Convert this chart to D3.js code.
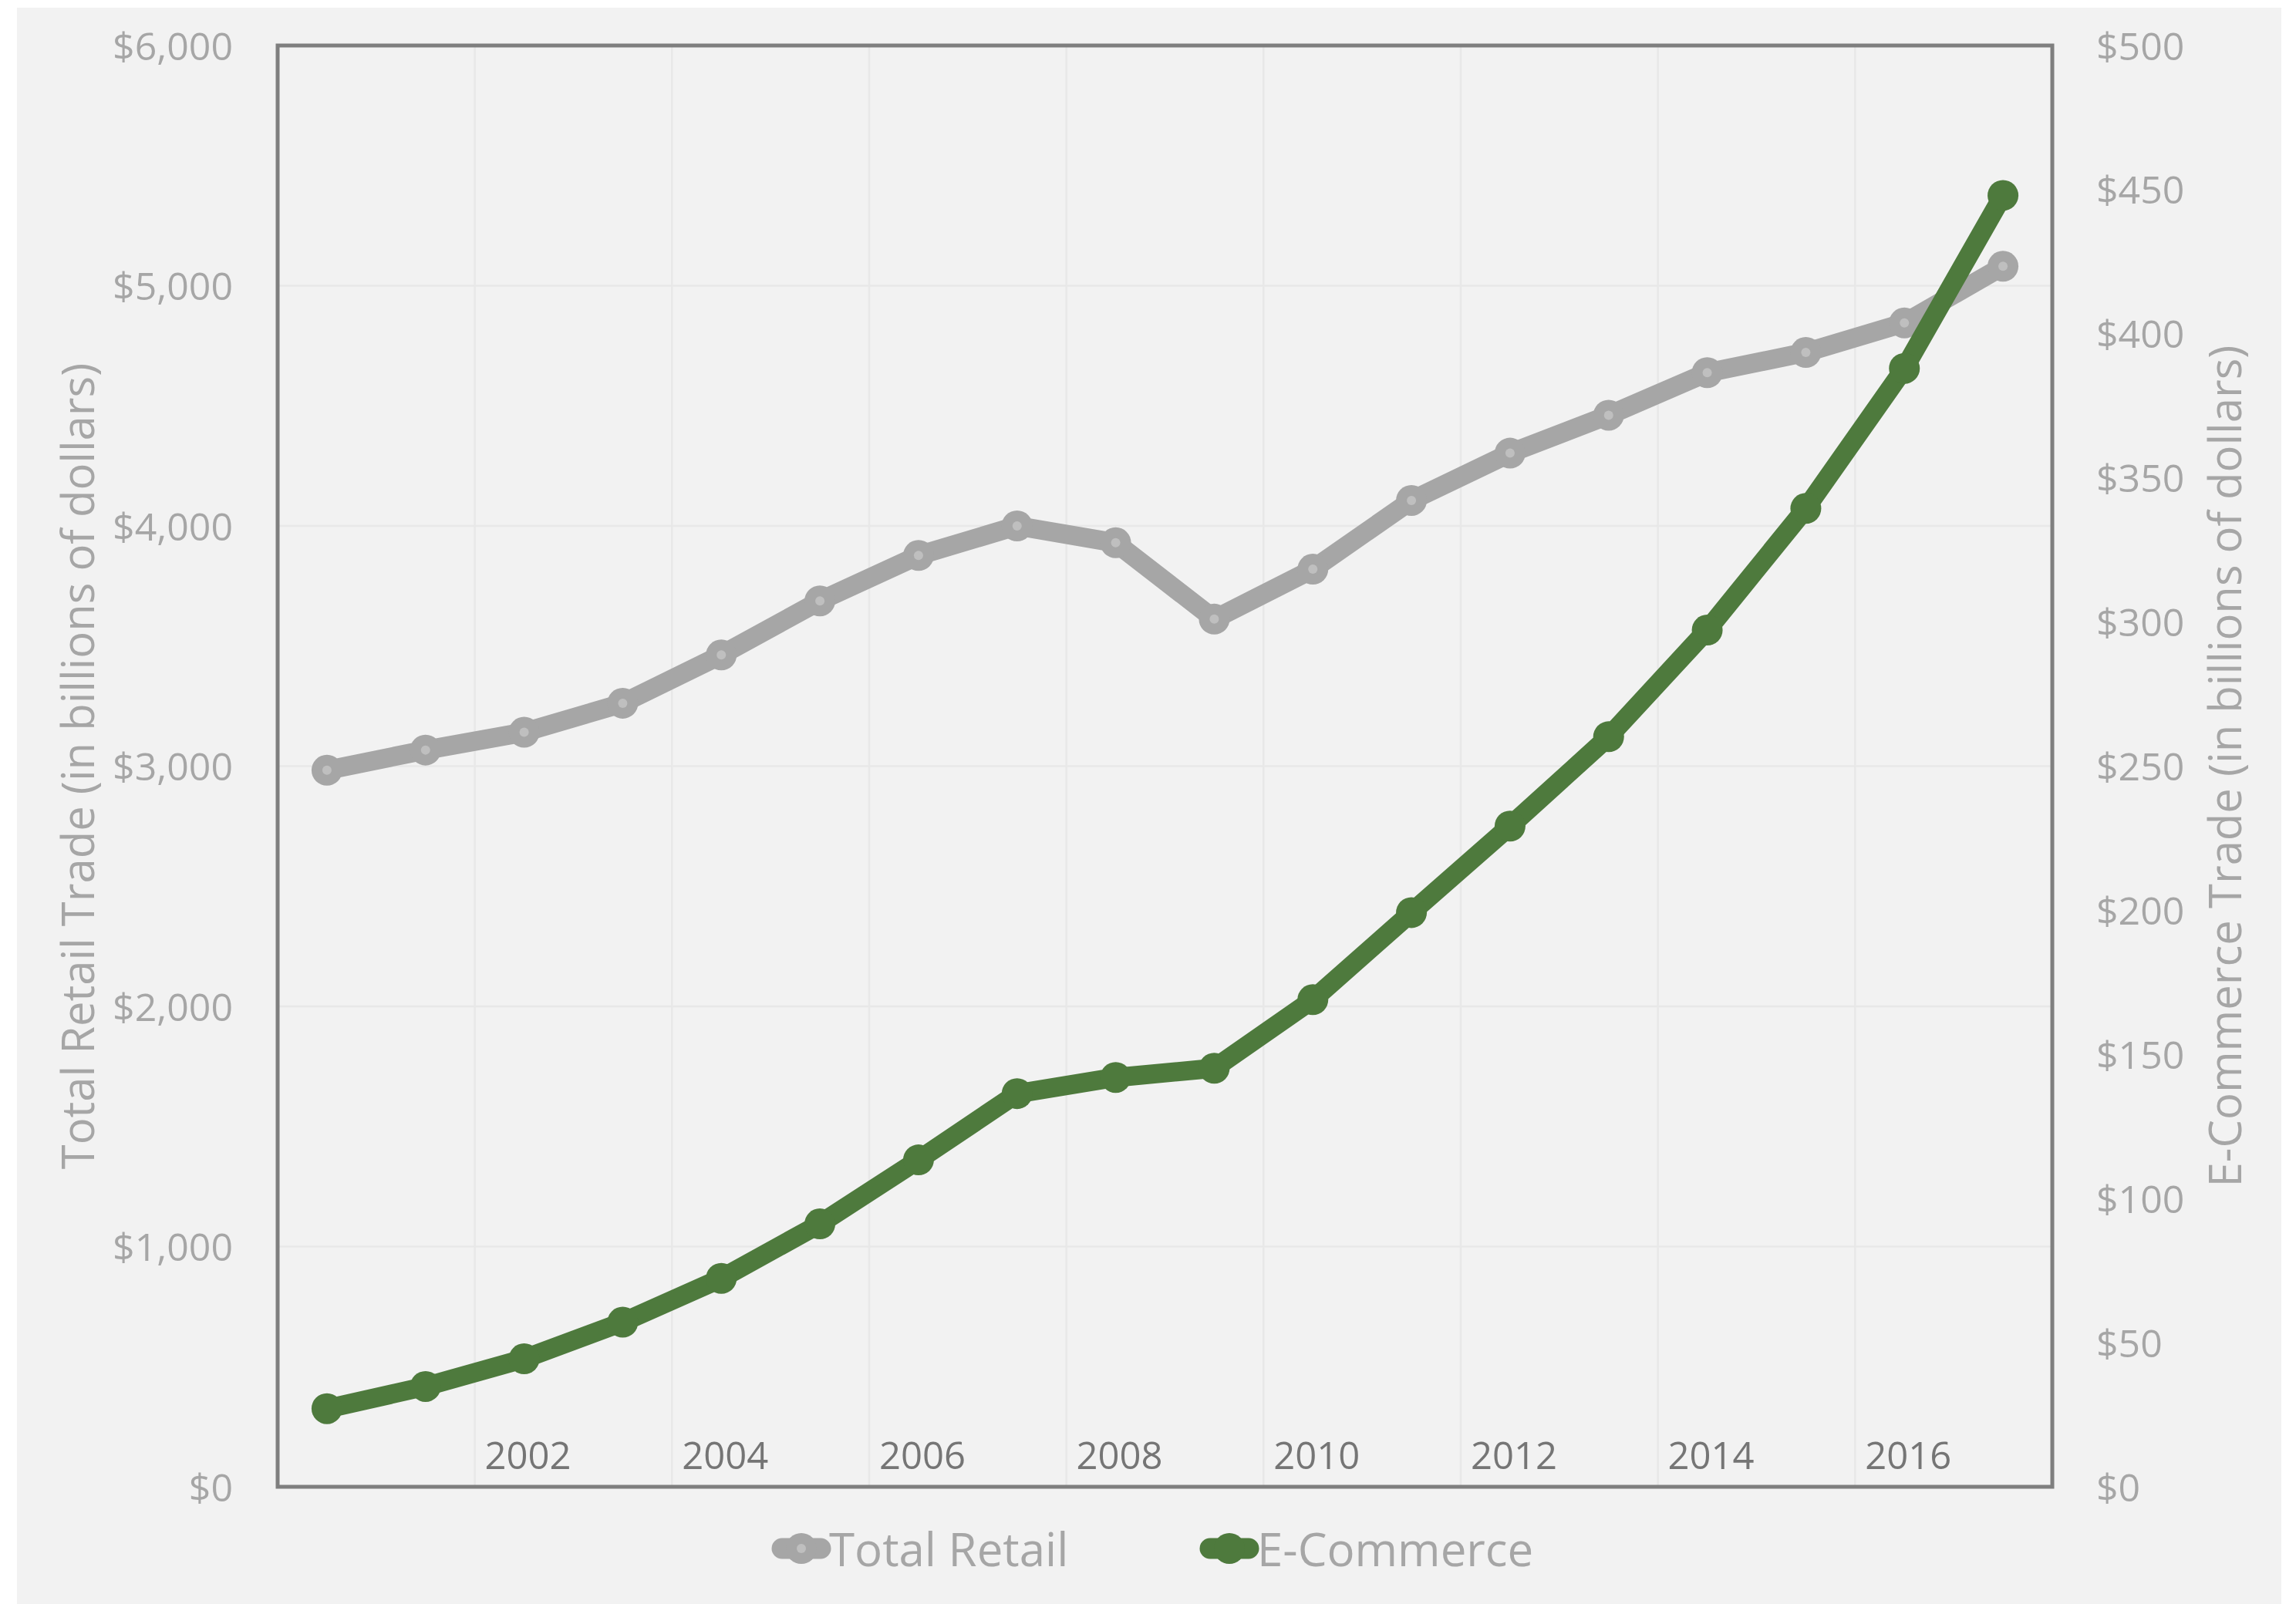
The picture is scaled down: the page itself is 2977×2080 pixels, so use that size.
<!DOCTYPE html>
<html>
<head>
<meta charset="utf-8">
<script src="https://cdn.jsdelivr.net/npm/d3@7"></script>
<style>
body { margin: 0; background: #ffffff; }
svg { display: block; }
text { font-family: "Segoe UI", "Open Sans", "Noto Sans", sans-serif; }
</style>
</head>
<body>
<svg></svg>
<script>
// categories and values
var years = ["2000","2001","2002","2003","2004","2005","2006","2007","2008",
             "2009","2010","2011","2012","2013","2014","2015","2016","2017"]
var yearLabels = ["2002","2004","2006","2008","2010","2012","2014","2016"]
var totalRetail = [2983, 3067, 3141, 3262, 3463, 3688, 3877, 4000, 3930,
                   3612, 3820, 4106, 4303, 4461, 4638, 4722, 4845, 5081]
var eCommerce = [27.1, 34.8, 44.4, 57.1, 72.3, 91.2, 113.4, 136.4, 142.0,
                 145.2, 169.0, 199.2, 229.2, 260.2, 297.2, 339.4, 388.0, 448.0]
var leftTicks = [0, 1000, 2000, 3000, 4000, 5000, 6000]
var rightTicks = [0, 50, 100, 150, 200, 250, 300, 350, 400, 450, 500]
var seriesNames = ["Total Retail", "E-Commerce"]

var screen = {width: 2977, height: 2080}
var plot = {left: 360, top: 59, right: 2661, bottom: 1928}

var grey = "#a6a6a6"
var green = "#4e7a3d"

var svg = d3.select("svg")
    .attr("width", screen.width)
    .attr("height", screen.height)

// chart area background
svg.append("rect")
    .attr("x", 22).attr("y", 10)
    .attr("width", 2958 - 22).attr("height", screen.height - 10)
    .attr("fill", "#f2f2f2")

var xScale = d3.scaleBand()
    .domain(years)
    .range([plot.left, plot.right])

var yLeft = d3.scaleLinear()
    .domain([0, 6000])
    .range([plot.bottom, plot.top])

var yRight = d3.scaleLinear()
    .domain([0, 500])
    .range([plot.bottom, plot.top])

var money = d3.format("$,")

// gridlines
svg.append("g")
    .selectAll("line")
    .data(leftTicks)
    .enter()
    .append("line")
    .attr("x1", plot.left).attr("x2", plot.right)
    .attr("y1", function(d) { return yLeft(d) })
    .attr("y2", function(d) { return yLeft(d) })
    .attr("stroke", "#e8e8e8")
    .attr("stroke-width", 2.5)

svg.append("g")
    .selectAll("line")
    .data(yearLabels)
    .enter()
    .append("line")
    .attr("x1", function(d) { return xScale(d) })
    .attr("x2", function(d) { return xScale(d) })
    .attr("y1", plot.top).attr("y2", plot.bottom)
    .attr("stroke", "#e8e8e8")
    .attr("stroke-width", 2.5)

// frame
svg.append("rect")
    .attr("x", plot.left).attr("y", plot.top)
    .attr("width", plot.right - plot.left)
    .attr("height", plot.bottom - plot.top)
    .attr("fill", "none")
    .attr("stroke", "#7f7f7f")
    .attr("stroke-width", 5)

// axes
var leftAxis = svg.append("g")
    .attr("transform", "translate(" + (plot.left - 58) + ",0)")
    .call(d3.axisLeft(yLeft).tickValues(leftTicks).tickFormat(money).tickSize(0).tickPadding(0))
var rightAxis = svg.append("g")
    .attr("transform", "translate(" + (plot.right + 57) + ",0)")
    .call(d3.axisRight(yRight).tickValues(rightTicks).tickFormat(money).tickSize(0).tickPadding(0))
var bottomAxis = svg.append("g")
    .attr("transform", "translate(5," + (plot.bottom - 63) + ")")
    .call(d3.axisBottom(xScale).tickValues(yearLabels).tickSize(0).tickPadding(0))

svg.selectAll(".domain").remove()

leftAxis.selectAll("text").attr("font-size", 50).attr("fill", grey)
    .attr("dy", "0.36em")
rightAxis.selectAll("text").attr("font-size", 50).attr("fill", grey)
    .attr("dy", "0.36em")
bottomAxis.selectAll("text").attr("font-size", 49).attr("fill", "#757575")
    .attr("dy", "0em").attr("y", 0)
bottomAxis.selectAll(".tick text").attr("transform", "translate(0,40)")

// axis titles
var midY = (plot.top + plot.bottom) / 2
svg.append("text")
    .attr("transform", "translate(122," + midY + ") rotate(-90)")
    .attr("text-anchor", "middle")
    .attr("font-size", 58)
    .attr("fill", grey)
    .text("Total Retail Trade (in billions of dollars)")
svg.append("text")
    .attr("transform", "translate(2906," + midY + ") rotate(-90)")
    .attr("text-anchor", "middle")
    .attr("font-size", 58)
    .attr("fill", grey)
    .text("E-Commerce Trade (in billions of dollars)")

// lines
var retailLine = d3.line()
    .x(function(d, i) { return xScale(years[i]) + xScale.bandwidth() / 2 })
    .y(function(d) { return yLeft(d) })
var ecomLine = d3.line()
    .x(function(d, i) { return xScale(years[i]) + xScale.bandwidth() / 2 })
    .y(function(d) { return yRight(d) })

svg.append("path")
    .datum(totalRetail)
    .attr("d", retailLine)
    .attr("fill", "none")
    .attr("stroke", grey)
    .attr("stroke-width", 25)
    .attr("stroke-linejoin", "round")

svg.append("g")
    .selectAll("circle")
    .data(totalRetail)
    .enter()
    .append("circle")
    .attr("cx", function(d, i) { return xScale(years[i]) + xScale.bandwidth() / 2 })
    .attr("cy", function(d) { return yLeft(d) })
    .attr("r", 20)
    .attr("fill", grey)

svg.append("g")
    .selectAll("circle")
    .data(totalRetail)
    .enter()
    .append("circle")
    .attr("cx", function(d, i) { return xScale(years[i]) + xScale.bandwidth() / 2 })
    .attr("cy", function(d) { return yLeft(d) })
    .attr("r", 6)
    .attr("fill", "#bfbfbf")

svg.append("path")
    .datum(eCommerce)
    .attr("d", ecomLine)
    .attr("fill", "none")
    .attr("stroke", green)
    .attr("stroke-width", 25)
    .attr("stroke-linejoin", "round")

svg.append("g")
    .selectAll("circle")
    .data(eCommerce)
    .enter()
    .append("circle")
    .attr("cx", function(d, i) { return xScale(years[i]) + xScale.bandwidth() / 2 })
    .attr("cy", function(d) { return yRight(d) })
    .attr("r", 20)
    .attr("fill", green)

// legend
var legendItems = [
    {name: seriesNames[0], color: grey, x: 1039, dot: true},
    {name: seriesNames[1], color: green, x: 1594, dot: false}
]
var legend = svg.append("g")
    .selectAll("g")
    .data(legendItems)
    .enter()
    .append("g")
    .attr("transform", function(d) { return "translate(" + d.x + ",2008)" })

legend.append("line")
    .attr("x1", -25).attr("x2", 25)
    .attr("stroke", function(d) { return d.color })
    .attr("stroke-width", 27)
    .attr("stroke-linecap", "round")
legend.append("circle")
    .attr("r", 20)
    .attr("fill", function(d) { return d.color })
legend.filter(function(d) { return d.dot })
    .append("circle")
    .attr("r", 6)
    .attr("fill", "#bfbfbf")
legend.append("text")
    .attr("x", 36)
    .attr("y", 23)
    .attr("font-size", 60)
    .attr("fill", grey)
    .text(function(d) { return d.name })
</script>
</body>
</html>
